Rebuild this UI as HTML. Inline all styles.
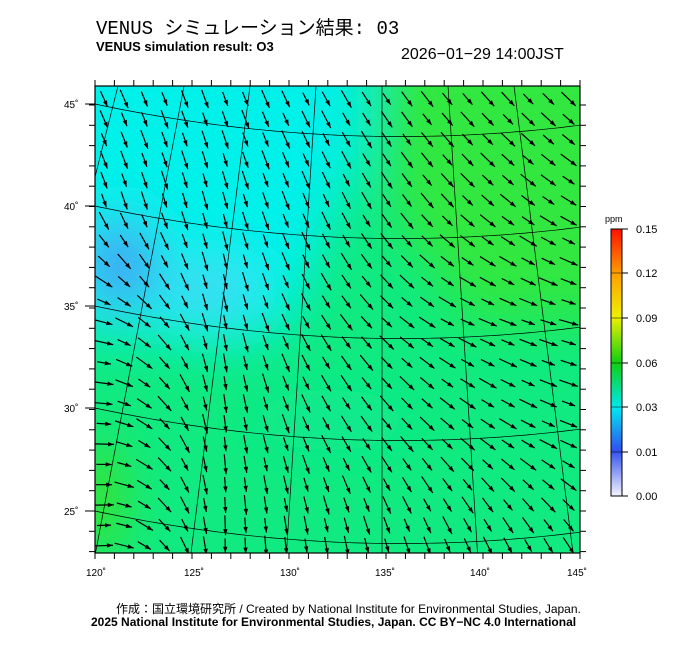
<!DOCTYPE html><html><head><meta charset="utf-8"><style>
body{margin:0;background:#fff;width:700px;height:649px;overflow:hidden;font-family:"Liberation Sans","Noto Sans CJK JP",sans-serif}
.t{position:absolute;white-space:nowrap}
</style></head><body>
<div class="t" style="left:96px;top:13px;font-size:19px;font-family:'Liberation Mono','Noto Sans CJK JP',monospace">VENUS シミュレーション結果: 03</div>
<div class="t" style="left:96px;top:39px;font-size:13px;font-weight:bold">VENUS simulation result: O3</div>
<div class="t" style="left:401px;top:46px;font-size:16px">2026−01−29 14:00JST</div>
<svg id="s" width="700" height="649" style="position:absolute;left:0;top:0">
<defs>
<linearGradient id="cb" x1="0" x2="0" y1="1" y2="0">
<stop offset="0" stop-color="#f4f4ff"/><stop offset="0.17" stop-color="#3050f0"/><stop offset="0.33" stop-color="#00e8f0"/><stop offset="0.5" stop-color="#10d010"/><stop offset="0.67" stop-color="#f0f000"/><stop offset="0.83" stop-color="#ffa000"/><stop offset="1" stop-color="#ff1000"/></linearGradient>
<filter id="b" x="-50%" y="-50%" width="200%" height="200%"><feGaussianBlur stdDeviation="24"/></filter>
<clipPath id="c"><rect x="95" y="86" width="485" height="467"/></clipPath>
</defs>
<g clip-path="url(#c)">
<rect x="95" y="86" width="485" height="467" fill="#10ea80"/>
<g filter="url(#b)">
<polygon points="40,40 370,40 365,150 330,230 290,330 230,350 150,340 40,330" fill="#00f0ea"/>
<polygon points="390,40 640,40 640,300 470,300 420,260 395,200" fill="#30e840"/>
<polygon points="420,300 640,300 640,330 480,330" fill="#28e850"/>
<ellipse cx="120" cy="265" rx="35" ry="45" fill="#40a0f4"/>
<ellipse cx="210" cy="290" rx="50" ry="25" fill="#40d8f4"/>
<ellipse cx="100" cy="500" rx="22" ry="60" fill="#40e020"/>
<ellipse cx="330" cy="420" rx="80" ry="30" fill="#10ea90"/>
</g>
<g id="grid" fill="none" stroke="#000" stroke-width="0.7"></g>
<g id="arr" stroke="#000" stroke-width="1.2" fill="#000"></g>
</g>
<rect x="95" y="86" width="485" height="467" fill="none" stroke="#000" stroke-width="1.2"/>
<g id="ax" stroke="#000" stroke-width="1" font-size="10" font-family="Liberation Sans"></g>
<rect x="611" y="229" width="11" height="267" fill="url(#cb)" stroke="#000"/>
<g font-size="11" font-family="Liberation Sans">
<text x="605" y="222" font-size="9">ppm</text>
<g stroke="#000"><line x1="622" x2="628" y1="229" y2="229"/><line x1="622" x2="628" y1="273" y2="273"/><line x1="622" x2="628" y1="318" y2="318"/><line x1="622" x2="628" y1="363" y2="363"/><line x1="622" x2="628" y1="407" y2="407"/><line x1="622" x2="628" y1="452" y2="452"/><line x1="622" x2="628" y1="496" y2="496"/>
<line x1="611" x2="622" y1="273" y2="273" stroke-width=".5"/><line x1="611" x2="622" y1="318" y2="318" stroke-width=".5"/><line x1="611" x2="622" y1="363" y2="363" stroke-width=".5"/><line x1="611" x2="622" y1="407" y2="407" stroke-width=".5"/><line x1="611" x2="622" y1="452" y2="452" stroke-width=".5"/></g>
<text x="636" y="233">0.15</text><text x="636" y="277">0.12</text><text x="636" y="322">0.09</text><text x="636" y="367">0.06</text><text x="636" y="411">0.03</text><text x="636" y="456">0.01</text><text x="636" y="500">0.00</text>
</g>
</svg>
<div class="t" style="left:116px;top:600px;font-size:12px">作成：国立環境研究所 / Created by National Institute for Environmental Studies, Japan.</div>
<div class="t" style="left:91px;top:615px;font-size:12px;font-weight:bold">2025 National Institute for Environmental Studies, Japan. CC BY−NC 4.0 International</div>
<script>
var NS="http://www.w3.org/2000/svg";
function el(p,t,a){var e=document.createElementNS(NS,t);for(var k in a)e.setAttribute(k,a[k]);p.appendChild(e);return e;}
var G=document.getElementById('grid'),A=document.getElementById('arr'),X=document.getElementById('ax');
var lab={45:104,40:206,35:306,30:408,25:511};
for(var k in lab){var d="";for(var x=60;x<=620;x+=5){var y=lab[k]+3.5e-4*(305*305-(x-400)*(x-400));d+=(d?"L":"M")+x+","+y.toFixed(1);}el(G,'path',{d:d});
 var t=el(X,'text',{x:64,y:lab[k]+4,stroke:'none'});t.textContent=k+"˚";el(X,'line',{x1:85,x2:95,y1:lab[k],y2:lab[k]});}
for(var L=115;L<=150;L+=5){var xt=382+(L-135)*13.2,xb=382+(L-135)*19.1;el(G,'line',{x1:xt,y1:86,x2:xb,y2:553});}
var lonlab={120:95,125:193,130:289,135:384,140:479,145:576};
for(var k in lonlab){var t=el(X,'text',{x:lonlab[k]-9,y:576,stroke:'none'});t.textContent=k+"˚";}
for(var x=95;x<=580;x+=19.4){el(X,'line',{x1:x,x2:x,y1:86,y2:80});el(X,'line',{x1:x,x2:x,y1:553,y2:559});}
for(var y=105;y<553;y+=20.3){el(X,'line',{x1:580,x2:586,y1:y,y2:y});el(X,'line',{x1:89,x2:95,y1:y,y2:y});}
var AG=[[65,70,60,50,45],[70,75,65,45,30],[10,80,55,25,15],[-5,85,60,40,20],[-10,90,80,68,58]];
function ang(x,y){var u=Math.max(0,Math.min(3.999,(x-95)/485*4)),v=Math.max(0,Math.min(3.999,(y-86)/467*4));var i=Math.floor(u),j=Math.floor(v),fu=u-i,fv=v-j;
 return AG[j][i]*(1-fu)*(1-fv)+AG[j][i+1]*fu*(1-fv)+AG[j+1][i]*(1-fu)*fv+AG[j+1][i+1]*fu*fv;}
for(var j=0;j<23;j++)for(var i=0;i<24;i++){var x=104+i*20.2,y=99+j*20.3;
 var a=ang(x,y)*Math.PI/180;var dx=Math.cos(a),dy=Math.sin(a);var len=17+3*Math.sin(i*1.7+j*2.3);
 var x1=x-dx*len/2,y1=y-dy*len/2,x2=x+dx*len/2,y2=y+dy*len/2;
 el(A,'line',{x1:x1,y1:y1,x2:x2,y2:y2});
 var hx=x2-dx*6,hy=y2-dy*6;el(A,'polygon',{points:x2+","+y2+" "+(hx-dy*2.2)+","+(hy+dx*2.2)+" "+(hx+dy*2.2)+","+(hy-dx*2.2),stroke:'none'});}
</script>
</body></html>
